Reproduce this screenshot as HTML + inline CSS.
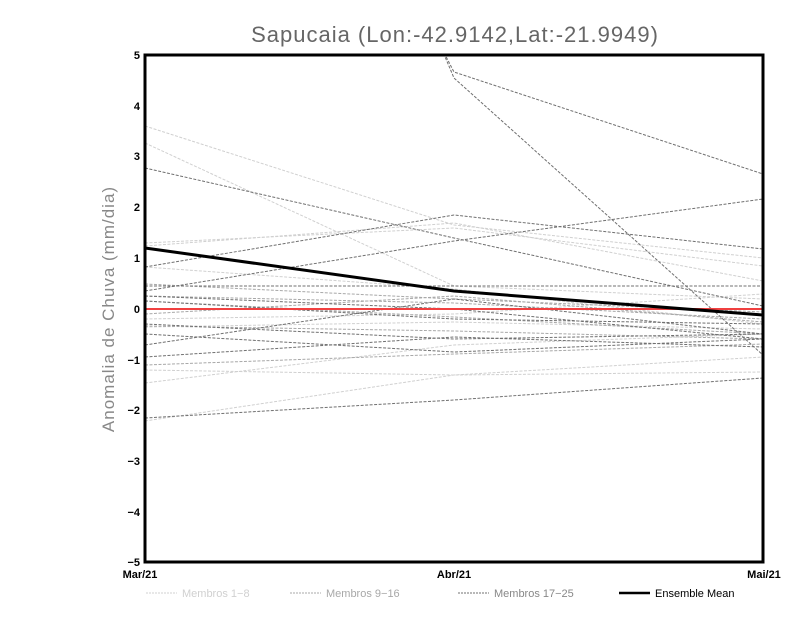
<!DOCTYPE html>
<html><head><style>body{margin:0;background:#fff}</style></head><body>
<svg width="800" height="618" xmlns="http://www.w3.org/2000/svg" font-family="Liberation Sans, sans-serif">
<rect width="800" height="618" fill="#fff"/>
<text x="455" y="42" text-anchor="middle" font-size="22" fill="#666" letter-spacing="1">Sapucaia (Lon:-42.9142,Lat:-21.9949)</text>
<text transform="translate(114,309) rotate(-90)" text-anchor="middle" font-size="17" fill="#888" letter-spacing="1">Anomalia de Chuva (mm/dia)</text>
<defs><clipPath id="c"><rect x="145" y="55" width="618" height="507"/></clipPath></defs>
<g clip-path="url(#c)" fill="none" stroke-width="1" stroke-dasharray="3,1.5">
<g stroke="#d0d0d0">
<polyline points="145,126 454,225 763,258"/>
<polyline points="145,143 454,286 763,299"/>
<polyline points="145,243 454,228 763,266"/>
<polyline points="145,246 454,223 763,281"/>
<polyline points="145,267 454,289 763,324"/>
<polyline points="145,319 454,314 763,294"/>
<polyline points="145,370 454,375 763,372"/>
<polyline points="145,383 454,345 763,334"/>
<polyline points="145,421 454,375 763,357"/>
<polyline points="145,327 454,322 763,329"/>
</g>
<g stroke="#a8a8a8">
<polyline points="145,296 454,303 763,319"/>
<polyline points="145,301 454,317 763,334"/>
<polyline points="145,326 454,331 763,339"/>
<polyline points="145,365 454,354 763,344"/>
<polyline points="145,314 454,296 763,322"/>
<polyline points="145,284 454,299 763,312"/>
</g>
<g stroke="#707070">
<polyline points="440,45 454,72 763,174"/>
<polyline points="440,45 454,78 763,355"/>
<polyline points="145,291 454,241 763,199"/>
<polyline points="145,267 454,215 763,249"/>
<polyline points="145,168 454,238 763,306"/>
<polyline points="145,286 454,286 763,286"/>
<polyline points="145,296 454,309 763,339"/>
<polyline points="145,301 454,319 763,324"/>
<polyline points="145,345 454,299 763,334"/>
<polyline points="145,324 454,339 763,334"/>
<polyline points="145,334 454,352 763,339"/>
<polyline points="145,357 454,337 763,347"/>
<polyline points="145,418 454,400 763,378"/>
</g>
</g>
<line x1="145" y1="309" x2="763" y2="309" stroke="#f04040" stroke-width="2"/>
<polyline points="145,248 454,291 763,315" fill="none" stroke="#000" stroke-width="3"/>
<rect x="145" y="55" width="618" height="507" fill="none" stroke="#000" stroke-width="3"/>
<g font-size="11" font-weight="bold" text-anchor="end">
<text x="140" y="59">5</text><text x="140" y="110">4</text><text x="140" y="160">3</text><text x="140" y="211">2</text><text x="140" y="262">1</text><text x="140" y="313">0</text><text x="140" y="364">−1</text><text x="140" y="414">−2</text><text x="140" y="465">−3</text><text x="140" y="516">−4</text><text x="140" y="566">−5</text>
</g>
<g font-size="11" font-weight="bold" text-anchor="middle">
<text x="140" y="578">Mar/21</text><text x="454" y="578">Abr/21</text><text x="764" y="578">Mai/21</text>
</g>
<g font-size="11">
<line x1="146" y1="593" x2="177" y2="593" stroke="#d0d0d0" stroke-dasharray="2,1"/><text x="182" y="597" fill="#d0d0d0">Membros 1−8</text>
<line x1="290" y1="593" x2="321" y2="593" stroke="#a8a8a8" stroke-dasharray="2,1"/><text x="326" y="597" fill="#a8a8a8">Membros 9−16</text>
<line x1="458" y1="593" x2="489" y2="593" stroke="#707070" stroke-dasharray="2,1"/><text x="494" y="597" fill="#888">Membros 17−25</text>
<line x1="619" y1="593" x2="650" y2="593" stroke="#000" stroke-width="2.5"/><text x="655" y="597" fill="#000">Ensemble Mean</text>
</g>
</svg>
</body></html>
